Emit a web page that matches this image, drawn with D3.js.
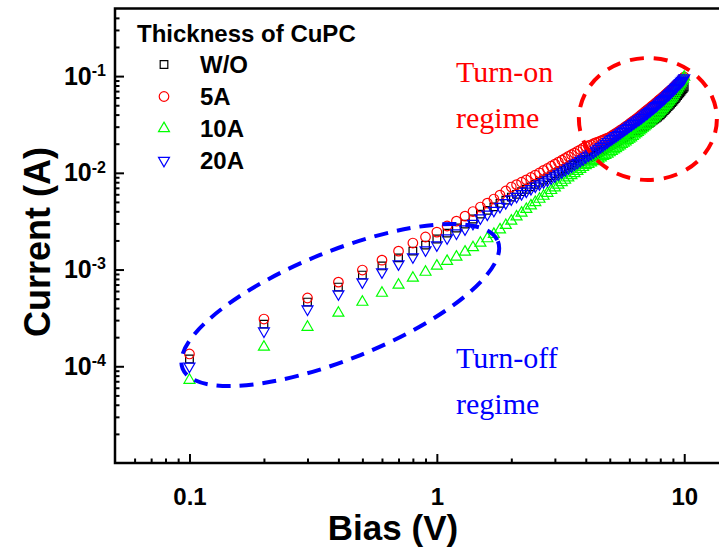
<!DOCTYPE html>
<html lang="en">
<head>
<meta charset="UTF-8">
<title>Current vs Bias - CuPC thickness</title>
<script src="https://cdn.jsdelivr.net/npm/d3@7"></script>
<style>
    body { margin: 0; background: #fff; }
    svg { display: block; font-family: "Liberation Sans", Arial, sans-serif; }
    .tick line { stroke: #000; stroke-width: 2; }
</style>
</head>
<body>
<script>

    // Bias points (V)
    const bias = [
        0.1, 0.2, 0.3, 0.4, 0.5, 0.6, 0.7, 0.8, 0.9,
        1.0, 1.1, 1.2, 1.3, 1.4, 1.5, 1.6, 1.7, 1.8, 1.9,
        2.0, 2.1, 2.2, 2.3, 2.4, 2.5, 2.6, 2.7, 2.8, 2.9,
        3.0, 3.1, 3.2, 3.3, 3.4, 3.5, 3.6, 3.7, 3.8, 3.9,
        4.0, 4.1, 4.2, 4.3, 4.4, 4.5, 4.6, 4.7, 4.8, 4.9,
        5.0, 5.1, 5.2, 5.3, 5.4, 5.5, 5.6, 5.7, 5.8, 5.9,
        6.0, 6.1, 6.2, 6.3, 6.4, 6.5, 6.6, 6.7, 6.8, 6.9,
        7.0, 7.1, 7.2, 7.3, 7.4, 7.5, 7.6, 7.7, 7.8, 7.9,
        8.0, 8.1, 8.2, 8.3, 8.4, 8.5, 8.6, 8.7, 8.8, 8.9,
        9.0, 9.1, 9.2, 9.3, 9.4, 9.5, 9.6, 9.7, 9.8, 9.9,
        10.0
    ];

    // Current in mA, one list per CuPC thickness
    const currentWO = [
        0.119, 0.273, 0.461, 0.659, 0.877, 1.09, 1.32, 1.55, 1.79,
        2.07, 2.38, 2.69, 2.95, 3.33, 3.74, 4.09, 4.45, 4.83, 5.22,
        5.62, 6.00, 6.38, 6.76, 7.16, 7.59, 8.00, 8.43, 8.87, 9.31,
        9.77, 10.2, 10.6, 11.0, 11.4, 11.9, 12.2, 12.6, 13.0, 13.4,
        13.8, 14.3, 14.7, 15.2, 15.7, 16.2, 16.7, 17.3, 17.9, 18.5,
        19.1, 19.6, 20.1, 20.7, 21.3, 21.9, 22.5, 23.1, 23.8, 24.4,
        25.1, 25.6, 26.2, 26.7, 27.3, 27.9, 28.4, 29.0, 29.6, 30.3,
        30.9, 31.7, 32.5, 33.3, 34.2, 35.1, 36.0, 36.9, 37.8, 38.8,
        39.8, 41.1, 42.5, 43.9, 45.3, 46.8, 48.3, 49.9, 51.5, 53.2,
        55.0, 56.9, 58.7, 60.8, 63.0, 65.0, 67.3, 69.7, 72.1, 74.5,
        77.1
    ];
    const current5A = [
        0.134, 0.308, 0.508, 0.741, 0.989, 1.25, 1.55, 1.88, 2.17,
        2.44, 2.82, 3.17, 3.57, 3.98, 4.43, 4.86, 5.36, 5.89, 6.49,
        7.13, 7.55, 8.00, 8.45, 8.95, 9.48, 10.0, 10.6, 11.1, 11.7,
        12.3, 12.9, 13.5, 14.1, 14.8, 15.4, 16.0, 16.7, 17.3, 18.0,
        18.7, 19.1, 19.5, 20.0, 20.5, 20.9, 21.4, 21.9, 22.4, 22.9,
        23.4, 24.2, 24.9, 25.7, 26.5, 27.4, 28.2, 29.1, 30.1, 31.0,
        32.0, 33.0, 34.0, 35.1, 36.2, 37.3, 38.5, 39.7, 40.9, 42.3,
        43.6, 44.8, 46.1, 47.4, 48.9, 50.2, 51.6, 53.2, 54.7, 56.4,
        57.9, 59.4, 61.1, 62.7, 64.4, 66.1, 67.8, 69.7, 71.4, 73.5,
        75.3, 77.3, 79.4, 81.5, 83.8, 85.9, 88.1, 90.6, 92.9, 95.5,
        97.9
    ];
    const current10A = [
        0.0719, 0.158, 0.254, 0.355, 0.461, 0.571, 0.692, 0.817, 0.942,
        1.09, 1.22, 1.35, 1.52, 1.69, 1.88, 2.09, 2.32, 2.58, 2.87,
        3.18, 3.51, 3.85, 4.20, 4.57, 4.95, 5.35, 5.75, 6.17, 6.59,
        7.03, 7.48, 7.94, 8.41, 8.89, 9.38, 9.86, 10.4, 10.9, 11.4,
        11.9, 12.3, 12.7, 13.1, 13.5, 13.9, 14.3, 14.8, 15.2, 15.7,
        16.2, 16.7, 17.3, 17.9, 18.5, 19.1, 19.7, 20.3, 21.0, 21.7,
        22.4, 23.1, 23.9, 24.7, 25.5, 26.3, 27.2, 28.1, 29.0, 29.9,
        30.9, 31.9, 33.0, 34.1, 35.3, 36.5, 37.8, 39.0, 40.4, 41.7,
        43.2, 44.7, 46.3, 48.0, 49.8, 51.5, 53.5, 55.3, 57.4, 59.4,
        61.7, 64.6, 67.6, 70.8, 74.1, 77.6, 81.3, 85.1, 89.1, 93.3,
        97.7
    ];
    const current20A = [
        0.100, 0.231, 0.390, 0.559, 0.743, 0.942, 1.14, 1.35, 1.59,
        1.79, 2.12, 2.38, 2.62, 2.99, 3.41, 3.73, 4.08, 4.48, 4.90,
        5.36, 5.70, 6.07, 6.44, 6.85, 7.29, 7.66, 8.04, 8.41, 8.83,
        9.27, 9.73, 10.2, 10.7, 11.2, 11.7, 12.3, 12.8, 13.4, 13.9,
        14.6, 15.2, 15.8, 16.4, 17.1, 17.8, 18.6, 19.3, 20.1, 20.9,
        21.8, 22.5, 23.3, 24.1, 24.9, 25.8, 26.7, 27.5, 28.5, 29.4,
        30.5, 31.3, 32.3, 33.2, 34.2, 35.2, 36.1, 37.2, 38.3, 39.4,
        40.6, 41.7, 43.0, 44.2, 45.5, 46.8, 48.1, 49.5, 50.9, 52.5,
        54.0, 55.5, 57.1, 58.7, 60.5, 62.2, 64.0, 65.9, 67.8, 69.8,
        71.8, 73.8, 76.0, 78.2, 80.5, 82.8, 85.1, 87.7, 90.2, 92.9,
        95.5
    ];

    const seriesNames = ["W/O", "5A", "10A", "20A"];
    const xDomain = [0.05, 20];      // V
    const yDomain = [1e-5, 0.5];     // A
    const xTickValues = [0.1, 1, 10];
    const yTickValues = [1e-1, 1e-2, 1e-3, 1e-4];

    // Canvas
    const width = 719;
    const height = 552;
    const plot = { left: 115, top: 8.5, right: 758.7, bottom: 463 };

    const svg = d3.select("body")
        .append("svg")
        .attr("width", width)
        .attr("height", height);

    svg.append("rect").attr("width", width).attr("height", height).attr("fill", "#fff");

    const x = d3.scaleLog().domain(xDomain).range([plot.left, plot.right]);
    const y = d3.scaleLog().domain(yDomain).range([plot.bottom, plot.top]);

    // minor ticks = all log ticks that are not majors or domain ends
    const isMajor = (list, v) => list.some(m => Math.abs(m - v) / m < 1e-6);
    const xMinor = x.ticks().filter(v => !isMajor(xTickValues, v) && v > xDomain[0] * 1.001 && v < xDomain[1] * 0.999);
    const yMinor = y.ticks().filter(v => !isMajor(yTickValues, v) && v > yDomain[0] * 1.001 && v < yDomain[1] * 0.999);

    // x axis (ticks point inward)
    svg.append("g")
        .attr("transform", `translate(0,${plot.bottom})`)
        .call(d3.axisBottom(x).tickValues(xMinor).tickSize(-4.5).tickFormat(""))
        .call(g => g.select(".domain").remove());
    svg.append("g")
        .attr("transform", `translate(0,${plot.bottom})`)
        .call(d3.axisBottom(x).tickValues(xTickValues).tickSize(-9).tickPadding(25)
            .tickFormat(d3.format("~g")))
        .call(g => g.select(".domain").remove())
        .call(g => g.selectAll("text")
            .style("font-size", "24px").style("font-weight", "bold").attr("fill", "#000"));

    // y axis
    svg.append("g")
        .attr("transform", `translate(${plot.left},0)`)
        .call(d3.axisLeft(y).tickValues(yMinor).tickSize(-4.5).tickFormat(""))
        .call(g => g.select(".domain").remove());
    svg.append("g")
        .attr("transform", `translate(${plot.left},0)`)
        .call(d3.axisLeft(y).tickValues(yTickValues).tickSize(-9).tickPadding(9))
        .call(g => g.select(".domain").remove())
        .call(g => g.selectAll("text").each(function (d) {
            const t = d3.select(this)
                .text("10")
                .attr("fill", "#000")
                .style("font-size", "25px")
                .style("font-weight", "bold");
            t.append("tspan")
                .attr("dy", "-0.55em")
                .style("font-size", "16px")
                .text(Math.round(Math.log10(d)));
        }));

    // frame
    svg.append("rect")
        .attr("x", plot.left)
        .attr("y", plot.top)
        .attr("width", plot.right - plot.left)
        .attr("height", plot.bottom - plot.top)
        .attr("fill", "none")
        .attr("stroke", "#000")
        .attr("stroke-width", 2.5);

    // axis titles
    svg.append("text")
        .attr("x", 393)
        .attr("y", 540)
        .attr("text-anchor", "middle")
        .style("font-size", "35px")
        .style("font-weight", "bold")
        .text("Bias (V)");
    svg.append("text")
        .attr("transform", "translate(50,242) rotate(-90)")
        .attr("text-anchor", "middle")
        .style("font-size", "36px")
        .style("font-weight", "bold")
        .text("Current (A)");

    // markers
    const markers = [
        { values: currentWO,  color: "#000000", sym: d3.symbolSquare,   size: 58, rot: 0 },
        { values: current5A,  color: "#ff0000", sym: d3.symbolCircle,   size: 72, rot: 0 },
        { values: current10A, color: "#00ff00", sym: d3.symbolTriangle, size: 52, rot: 0 },
        { values: current20A, color: "#0000ff", sym: d3.symbolTriangle, size: 52, rot: 180 }
    ];

    markers.forEach(s => {
        const path = d3.symbol().type(s.sym).size(s.size)();
        svg.append("g")
            .selectAll("path")
            .data(bias.map((v, i) => ({ v, a: s.values[i] * 1e-3 })))
            .enter()
            .append("path")
            .attr("d", path)
            .attr("transform", d => `translate(${x(d.v)},${y(d.a)}) rotate(${s.rot})`)
            .attr("fill", "none")
            .attr("stroke", s.color)
            .attr("stroke-width", 1.2);
    });

    // legend
    const legend = svg.append("g");
    legend.append("text")
        .attr("x", 137)
        .attr("y", 41.5)
        .style("font-size", "24px")
        .style("font-weight", "bold")
        .text("Thickness of CuPC");
    markers.forEach((s, i) => {
        const ly = 64.5 + i * 32;
        legend.append("path")
            .attr("d", d3.symbol().type(s.sym).size(s.size)())
            .attr("transform", `translate(164,${ly}) rotate(${s.rot})`)
            .attr("fill", "none")
            .attr("stroke", s.color)
            .attr("stroke-width", 1.2);
        legend.append("text")
            .attr("x", 200)
            .attr("y", ly + 8.5)
            .style("font-size", "24px")
            .style("font-weight", "bold")
            .text(seriesNames[i]);
    });

    // regime annotations (centres in data units)
    svg.append("ellipse")
        .attr("transform", `translate(${x(0.407)},${y(4.3e-4)}) rotate(-22)`)
        .attr("rx", 170)
        .attr("ry", 54)
        .attr("fill", "none")
        .attr("stroke", "#0000ff")
        .attr("stroke-width", 4)
        .attr("stroke-dasharray", "14 9");
    svg.append("ellipse")
        .attr("cx", x(7.13))
        .attr("cy", y(0.036))
        .attr("rx", 69)
        .attr("ry", 61)
        .attr("fill", "none")
        .attr("stroke", "#ff0000")
        .attr("stroke-width", 4)
        .attr("stroke-dasharray", "14 10");

    const notes = [
        { lines: ["Turn-on", "regime"], color: "#ff0000", y: 82 },
        { lines: ["Turn-off", "regime"], color: "#0000ff", y: 368 }
    ];
    notes.forEach(n => {
        n.lines.forEach((l, i) => {
            svg.append("text")
                .attr("x", 456)
                .attr("y", n.y + i * 45.5)
                .attr("fill", n.color)
                .style("font-family", "'Liberation Serif', 'Times New Roman', serif")
                .style("font-size", "30px")
                .text(l);
        });
    });
</script>
</body>
</html>
